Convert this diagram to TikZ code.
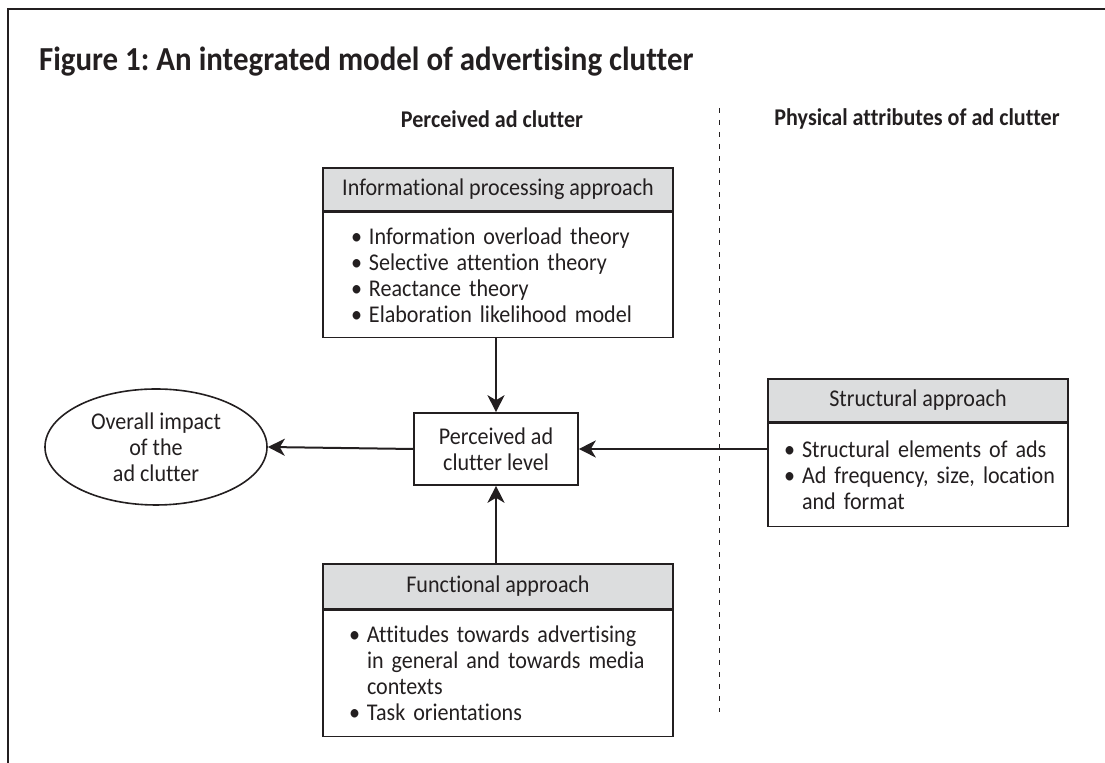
\documentclass[tikz,border=0pt]{standalone}
\usepackage{fontspec}
\setmainfont[FakeStretch=0.92, Ligatures=NoCommon]{Carlito}
\usepackage{xcolor}
\usetikzlibrary{arrows.meta, positioning, shapes.geometric}

\definecolor{inkgray}{HTML}{231F20}
\definecolor{hdrgray}{HTML}{DCDDDE}
\newcommand{\bodyfont}{\fontsize{12}{13}\selectfont\hyphenpenalty=10000}
\newcommand{\bitem}{\makebox[9pt][l]{\textbullet}}
\newcommand{\bcont}{\hspace*{9pt}}

\begin{document}
\frenchspacing
\begin{tikzpicture}[x=0.5pt, y=-0.5pt, text=inkgray,
  hbox/.style={rectangle, draw=inkgray, line width=0.8pt, fill=hdrgray,
    align=center, inner sep=0pt, font=\bodyfont, anchor=north},
  bbox/.style={rectangle, draw=inkgray, line width=0.8pt, fill=white,
    align=left, inner ysep=0pt, font=\bodyfont},
  pbox/.style={rectangle, draw=inkgray, line width=0.8pt,
    align=center, minimum width=82pt, minimum height=36pt,
    inner sep=0pt, font=\bodyfont},
  ebox/.style={ellipse, draw=inkgray, line width=0.8pt,
    align=center, minimum width=111pt, minimum height=58pt,
    inner sep=0pt, font=\bodyfont},
  arr/.style={-{Stealth[length=8.5pt, width=8.5pt, inset=2.5pt]},
    draw=inkgray, line width=1pt}
]
\useasboundingbox (0,0) rectangle (1105,763);

%% --- Frame and headings ---
\draw[inkgray, line width=1.2pt] (8,763) -- (8,9) -- (1105,9);
\node[anchor=west, font=\fontsize{16.8}{18}\selectfont\bfseries] (TTL) at (32,62)
  {Figure 1: An integrated model of advertising clutter};
\node[font=\bodyfont\bfseries] (HPC) at (492,119) {Perceived ad clutter};
\node[font=\bodyfont\bfseries] (HPA) at (917,119) {Physical attributes of ad clutter};
\draw[inkgray, line width=0.5pt, dash pattern=on 2.5pt off 3.5pt] (719,108) -- (719,712);

%% --- Informational processing approach ---
\node[hbox, minimum width=175pt, minimum height=21.5pt] (IH) at (498,167)
  {Informational processing approach};
\node[bbox, inner xsep=14pt, text width=147pt, minimum height=62.5pt, below=0pt of IH] (IB)
  {\bitem Information overload theory\\
   \bitem Selective attention theory\\
   \bitem Reactance theory\\
   \bitem Elaboration likelihood model};

%% --- Centre and outcome ---
\node[pbox] (PL) at (496,449) {Perceived ad\\clutter level};
\node[ebox] (OI) at (156,447) {Overall impact\\of the\\ad clutter};

%% --- Structural approach ---
\node[hbox, minimum width=150pt, minimum height=21.5pt] (SH) at (918,378)
  {Structural approach};
\node[bbox, inner xsep=8pt, text width=134pt, minimum height=51.5pt, below=0pt of SH] (SB)
  {\mbox{\bitem Structural elements of ads}\\
   \mbox{\bitem Ad frequency, size, location}\\
   \bcont and format};

%% --- Functional approach ---
\node[hbox, minimum width=175pt, minimum height=22.5pt] (FH) at (498,563)
  {Functional approach};
\node[bbox, inner xsep=13pt, text width=149pt, minimum height=63pt, below=0pt of FH] (FB)
  {\bitem Attitudes towards advertising\\
   \bcont in general and towards media\\
   \bcont contexts\\
   \bitem Task orientations};

%% --- Arrows into and out of the clutter level ---
\draw[arr] (PL.north |- IB.south) -- (PL.north);
\draw[arr] (PL.south |- FH.north) -- (PL.south);
\draw[arr] (PL.east -| SB.west) -- (PL.east);
\draw[arr] (PL.west) -- (OI.east);

\end{tikzpicture}
\end{document}
